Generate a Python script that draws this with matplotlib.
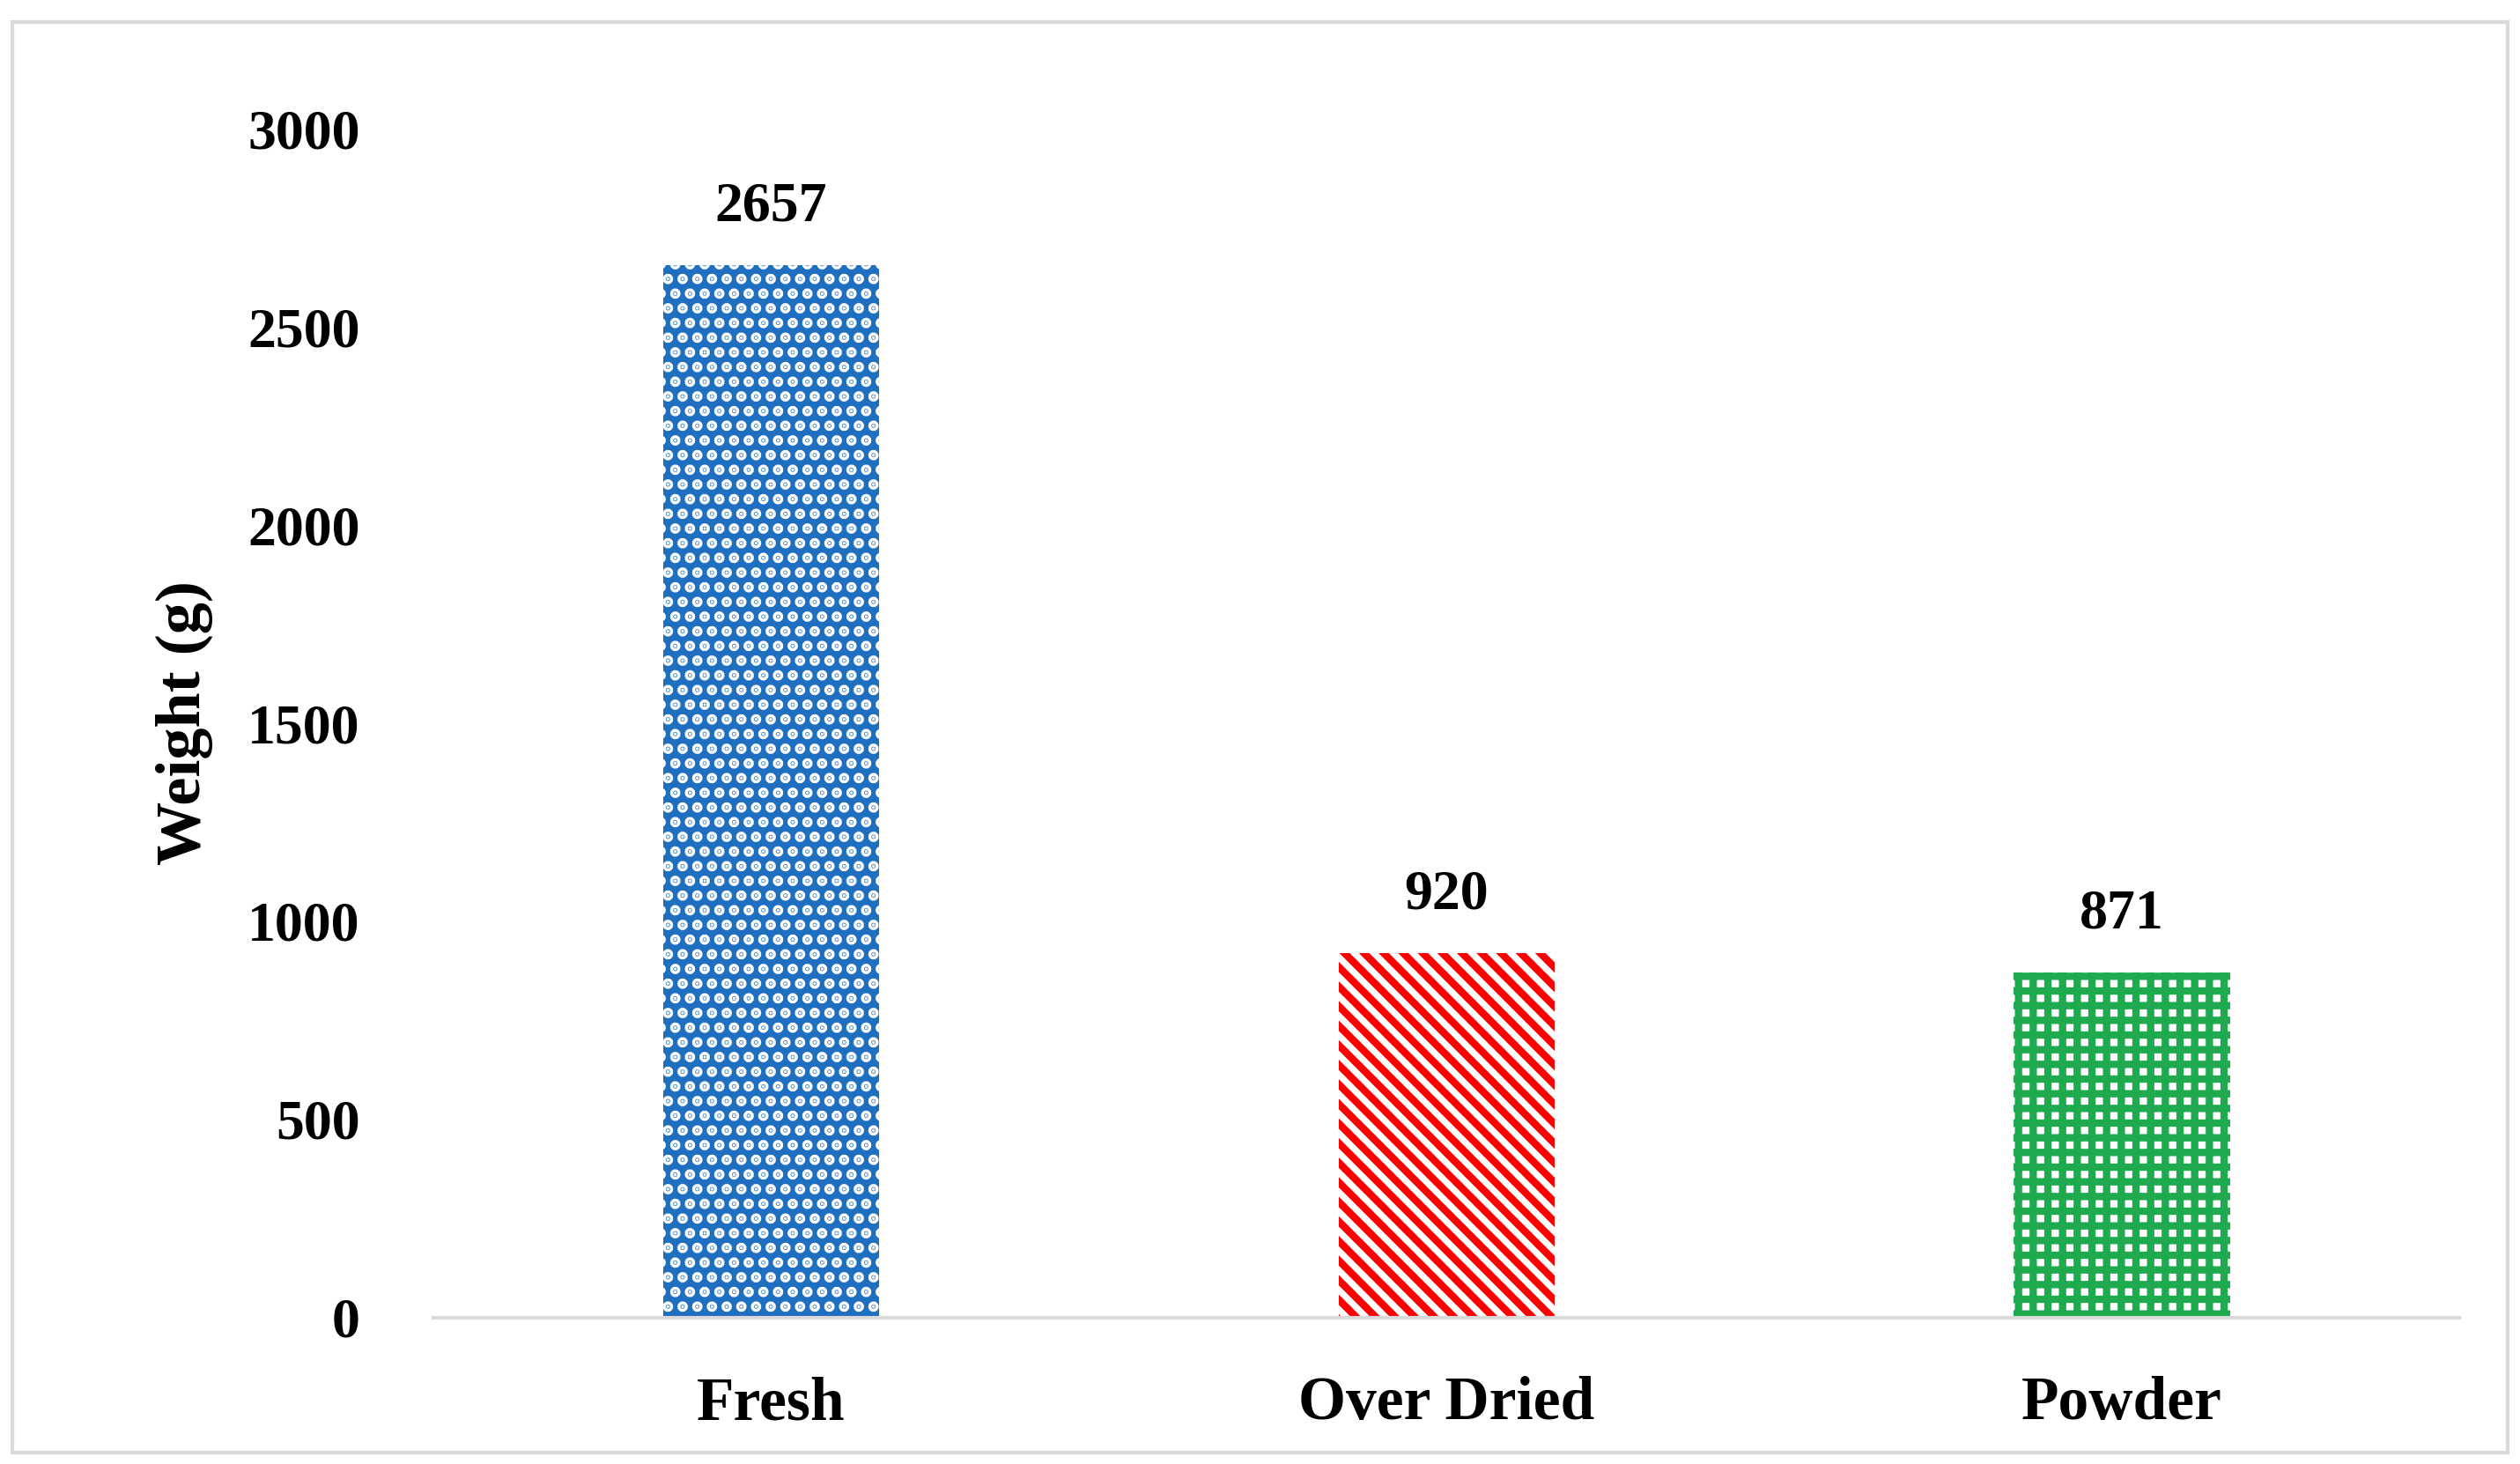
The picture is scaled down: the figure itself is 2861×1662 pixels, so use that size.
import matplotlib
matplotlib.use("Agg")
import matplotlib.pyplot as plt
from matplotlib.patches import Rectangle

categories = ["Fresh", "Over Dried", "Powder"]
values = [2657, 920, 871]
yticks = [0, 500, 1000, 1500, 2000, 2500, 3000]

plt.rcParams['font.family'] = ['Liberation Serif', 'DejaVu Serif']
plt.rcParams['hatch.linewidth'] = 3.0
fig = plt.figure(figsize=(14.305, 8.31), dpi=200)
ax = fig.add_axes([0.172, 0.100, 0.804, 0.812])
fig.patches.append(Rectangle((0.005, 0.008), 0.99, 0.977, transform=fig.transFigure,
                             fill=False, edgecolor='#d9d9d9', linewidth=1.5))

styles = [
    dict(facecolor='#1f6fc0', edgecolor='white', hatch='..'),
    dict(facecolor='white', edgecolor='#ff0000', hatch='\\\\\\'),
    dict(facecolor='white', edgecolor='#1faa50', hatch='++'),
]
x = range(len(categories))
for i, (v, st) in enumerate(zip(values, styles)):
    ax.bar(i, v, width=0.32, linewidth=0, **st)
    ax.text(i, v + 80, str(v), ha='center', va='bottom', fontsize=23, fontweight='bold')

ax.set_xlim(-0.5, 2.5)
ax.set_ylim(0, 3000)
ax.set_yticks(yticks)
ax.set_xticks(list(x))
ax.set_xticklabels(categories, fontsize=25, fontweight='bold')
for t in ax.get_yticklabels():
    t.set_fontsize(23); t.set_fontweight('bold')
ax.tick_params(axis='both', length=0)
ax.tick_params(axis='x', pad=24)
ax.tick_params(axis='y', pad=30)
for s in ['top', 'right', 'left']:
    ax.spines[s].set_visible(False)
ax.spines['bottom'].set_color('#d9d9d9')
ax.spines['bottom'].set_linewidth(1.5)
ax.set_ylabel("Weight (g)", fontsize=26, fontweight='bold', labelpad=14)
fig.savefig("out.png", dpi=200)
